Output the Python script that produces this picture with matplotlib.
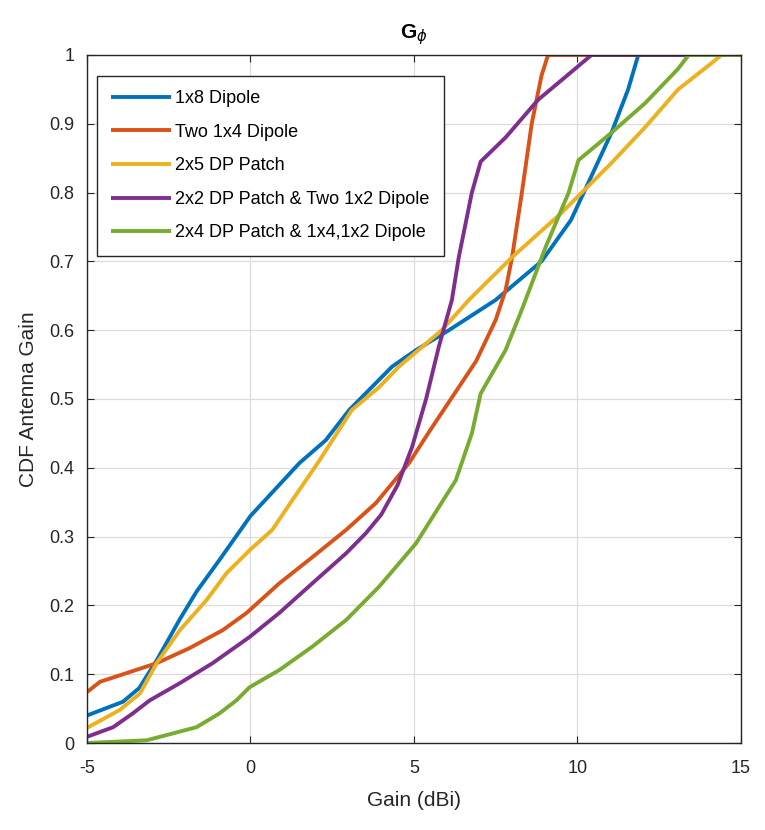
import matplotlib.pyplot as plt

plt.rcParams['font.family'] = ['Liberation Sans', 'DejaVu Sans']
plt.rcParams['axes.unicode_minus'] = False

# CDF curves
blue_x = [-5, -3.9, -3.4, -2.87, -2.16, -1.65, -0.95, 0, 1.5, 2.3, 3.02, 4.33, 5.06, 6.07, 7.5, 8.9, 9.8, 10.33, 11.04, 11.55, 11.86, 15]
blue_y = [0.04, 0.06, 0.08, 0.12, 0.18, 0.22, 0.266, 0.33, 0.407, 0.44, 0.484, 0.547, 0.571, 0.60, 0.644, 0.70, 0.76, 0.814, 0.887, 0.95, 1.0, 1.0]

orange_x = [-5, -4.6, -3.7, -2.87, -1.86, -0.85, -0.12, 0.88, 1.89, 2.93, 3.84, 4.85, 5.5, 6.2, 6.9, 7.5, 7.8, 8.0, 8.3, 8.6, 8.9, 9.1, 15]
orange_y = [0.074, 0.089, 0.103, 0.116, 0.138, 0.164, 0.189, 0.232, 0.27, 0.31, 0.349, 0.407, 0.455, 0.505, 0.555, 0.615, 0.658, 0.706, 0.80, 0.90, 0.97, 1.0, 1.0]

yellow_x = [-5, -4.0, -3.38, -2.87, -2.16, -1.34, -0.73, -0.03, 0.67, 1.28, 2.1, 3.1, 3.93, 4.54, 5.85, 6.68, 8.0, 9.5, 11.04, 12.07, 13.08, 14.1, 14.4, 15]
yellow_y = [0.022, 0.048, 0.072, 0.116, 0.164, 0.208, 0.247, 0.28, 0.31, 0.353, 0.41, 0.484, 0.517, 0.547, 0.60, 0.644, 0.706, 0.77, 0.843, 0.895, 0.95, 0.988, 1.0, 1.0]

purple_x = [-5, -4.2, -3.6, -3.08, -2.16, -1.16, -0.03, 0.88, 1.89, 2.93, 3.53, 4.0, 4.5, 4.94, 5.37, 5.76, 6.16, 6.37, 6.77, 7.04, 7.8, 8.8, 9.63, 10.43, 15]
purple_y = [0.009, 0.023, 0.043, 0.062, 0.087, 0.116, 0.154, 0.189, 0.232, 0.276, 0.305, 0.332, 0.375, 0.43, 0.5, 0.576, 0.644, 0.706, 0.80, 0.845, 0.88, 0.935, 0.968, 1.0, 1.0]

green_x = [-5, -3.17, -2.37, -1.65, -0.95, -0.43, -0.03, 0.88, 1.89, 2.93, 3.93, 5.06, 6.28, 6.77, 7.04, 7.8, 8.3, 9.02, 9.73, 10.03, 11.04, 12.07, 13.08, 13.4, 15]
green_y = [0.0, 0.004, 0.014, 0.023, 0.043, 0.062, 0.081, 0.106, 0.14, 0.179, 0.227, 0.29, 0.382, 0.45, 0.508, 0.571, 0.63, 0.72, 0.80, 0.847, 0.887, 0.93, 0.98, 1.0, 1.0]

labels = ['1x8 Dipole', 'Two 1x4 Dipole', '2x5 DP Patch',
          '2x2 DP Patch & Two 1x2 Dipole', '2x4 DP Patch & 1x4,1x2 Dipole']
colors = ['#0072BD', '#D95319', '#EDB120', '#7E2F8E', '#77AC30']

fig = plt.figure(figsize=(7.65, 8.3), dpi=100)
ax = fig.add_axes([0.1137, 0.1048, 0.8549, 0.829])

series = [(blue_x, blue_y), (orange_x, orange_y), (yellow_x, yellow_y),
          (purple_x, purple_y), (green_x, green_y)]
for (xs, ys), lab, c in zip(series, labels, colors):
    ax.plot(xs, ys, color=c, linewidth=2.8, label=lab, solid_capstyle='butt')

ax.set_xlim(-5, 15)
ax.set_ylim(0, 1)
ax.set_xticks([-5, 0, 5, 10, 15])
ax.set_yticks([i / 10 for i in range(11)])
ax.set_yticklabels(['0', '0.1', '0.2', '0.3', '0.4', '0.5', '0.6', '0.7', '0.8', '0.9', '1'])
ax.grid(True, color='#dcdcdc', linewidth=0.9)
ax.set_axisbelow(True)
ax.tick_params(direction='in', top=True, right=True, labelsize=13, length=5, colors='#262626')
ax.tick_params(axis='x', pad=12)
ax.tick_params(axis='y', pad=9)
for s in ax.spines.values():
    s.set_color('#262626')
    s.set_linewidth(1.0)

ax.set_xlabel('Gain (dBi)', fontsize=15, color='#262626', labelpad=10)
ax.set_ylabel('CDF Antenna Gain', fontsize=15, color='#262626', labelpad=8)
ax.set_title(r'G$_{\phi}$', fontsize=15, fontweight='bold', pad=12)

leg = ax.legend(loc='upper left', bbox_to_anchor=(0.015, 0.97), borderaxespad=0,
                fontsize=13, handlelength=3.3, handletextpad=0.25, labelspacing=0.92,
                fancybox=False, framealpha=1, edgecolor='#262626', borderpad=0.8)
leg.get_frame().set_linewidth(1.0)

fig.savefig('out.png', dpi=100)
